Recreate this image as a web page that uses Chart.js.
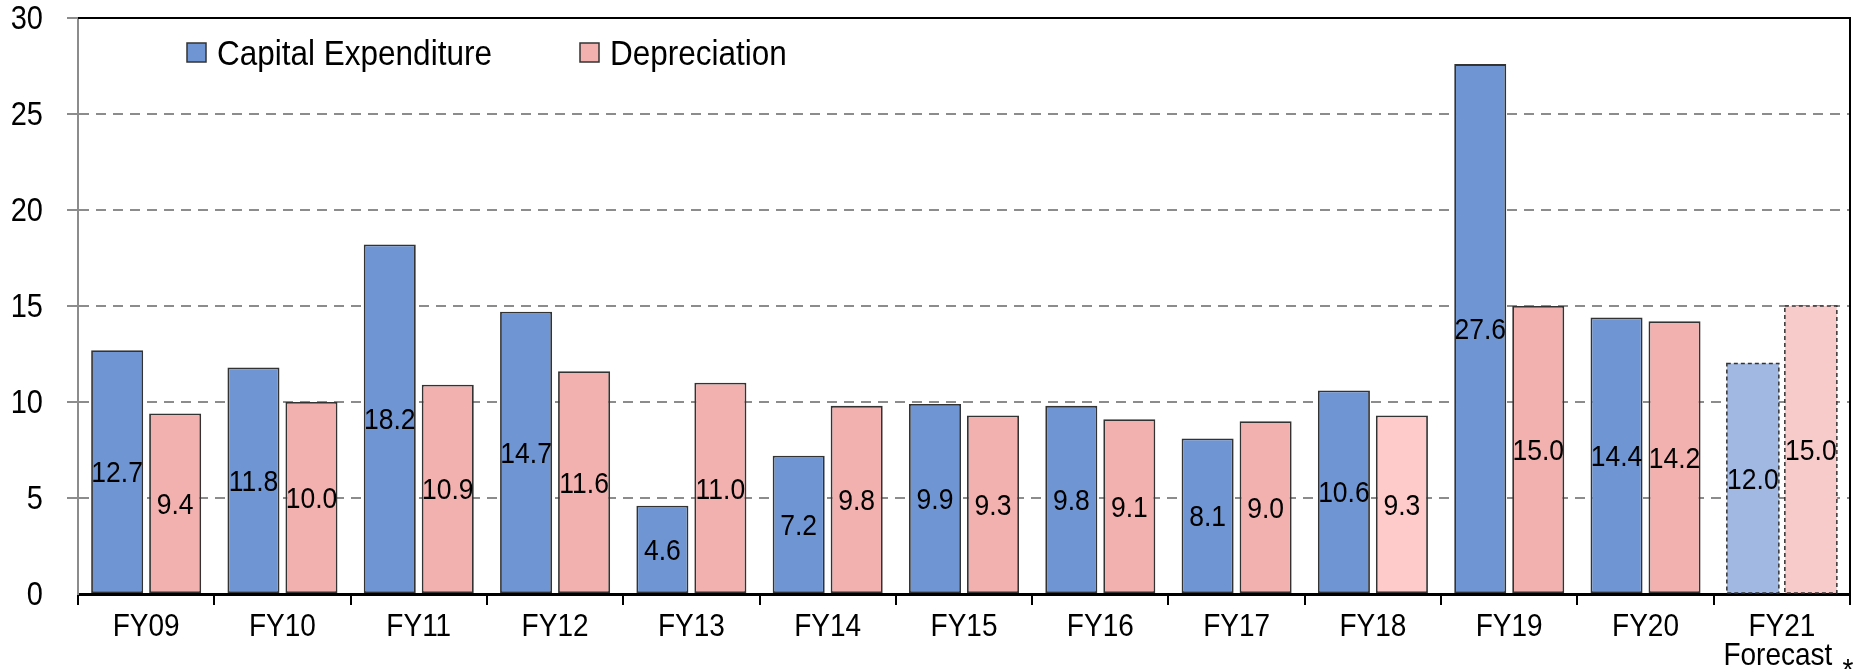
<!DOCTYPE html>
<html>
<head>
<meta charset="utf-8">
<script src="https://cdn.jsdelivr.net/npm/chart.js@4"></script>
<style>
  html, body { margin: 0; padding: 0; background: #fff; }
  #wrap { width: 1862px; height: 669px; }
</style>
</head>
<body>
<div id="wrap"><canvas id="chart" width="1862" height="669"></canvas></div>
<script>
const categories = ["FY09","FY10","FY11","FY12","FY13","FY14","FY15","FY16","FY17","FY18","FY19","FY20","FY21"];
const forecastNote = "Forecast";
const capex = [12.7, 11.8, 18.2, 14.7, 4.6, 7.2, 9.9, 9.8, 8.1, 10.6, 27.6, 14.4, 12.0];
const depreciation = [9.4, 10.0, 10.9, 11.6, 11.0, 9.8, 9.3, 9.1, 9.0, 9.3, 15.0, 14.2, 15.0];
const yTicks = [0, 5, 10, 15, 20, 25, 30];
const forecastIndex = 12;

const FONT = "'Liberation Sans', Arial, sans-serif";
const STRETCH = 1.12; // source text is a bit taller than it is wide
const BLUE = "#6F96D3", BLUE_LIGHT = "#A1B9E2";
const PINK = "#F2B1AF", PINK_LIGHT = "#FECACA", PINK_FORECAST = "#F8CBCB";

const capexColors = capex.map((v, i) => i === forecastIndex ? BLUE_LIGHT : BLUE);
const depColors = depreciation.map((v, i) => i === forecastIndex ? PINK_FORECAST : (i === 9 ? PINK_LIGHT : PINK));

// text drawn with its cap-height centred on cy, stretched vertically
function tallText(ctx, text, x, cy, size, align){
  ctx.save();
  ctx.font = `${size}px ${FONT}`;
  ctx.textAlign = align || "center";
  ctx.textBaseline = "alphabetic";
  ctx.translate(x, cy + 0.358 * size * STRETCH);
  ctx.scale(1, STRETCH);
  ctx.fillText(text, 0, 0);
  ctx.restore();
}

// value labels in the middle of every bar + dashed forecast outlines
const barLabels = {
  id: "barLabels",
  afterDatasetsDraw(chart){
    const ctx = chart.ctx;
    ctx.save();
    ctx.fillStyle = "#000";
    chart.data.datasets.forEach((ds, di) => {
      const meta = chart.getDatasetMeta(di);
      meta.data.forEach((bar, i) => {
        if (i === forecastIndex){
          ctx.save();
          ctx.strokeStyle = "#333";
          ctx.lineWidth = 1.5;
          ctx.setLineDash([4, 3]);
          ctx.strokeRect(bar.x - bar.width/2, bar.y, bar.width, bar.base - bar.y);
          ctx.restore();
        }
        tallText(ctx, ds.data[i].toFixed(1), bar.x, (bar.y + bar.base)/2, 26.5);
      });
    });
    ctx.restore();
  }
};

// frame, axis labels and legend
const frameAndLegend = {
  id: "frameAndLegend",
  afterDraw(chart){
    const { ctx, chartArea: a } = chart;
    const xs = chart.scales.x, ys = chart.scales.y;
    ctx.save();
    ctx.strokeStyle = "#000";
    ctx.lineWidth = 2;
    ctx.beginPath();
    ctx.moveTo(a.left, a.top);
    ctx.lineTo(a.right, a.top);
    ctx.lineTo(a.right, a.bottom);
    ctx.stroke();

    ctx.fillStyle = "#000";
    yTicks.forEach(v => tallText(ctx, String(v), a.left - 35, ys.getPixelForValue(v) - 1, 29, "right"));
    categories.forEach((c, i) => tallText(ctx, c, xs.getPixelForTick(i), a.bottom + 31, 28));
    const fx = xs.getPixelForTick(forecastIndex);
    tallText(ctx, forecastNote, fx - 4, a.bottom + 60, 28);
    tallText(ctx, "*", fx + 66, a.bottom + 76, 28);

    const items = [
      { text: "Capital Expenditure", color: BLUE, x: a.left + 109 },
      { text: "Depreciation", color: PINK, x: a.left + 502 }
    ];
    for (const it of items){
      ctx.fillStyle = it.color;
      ctx.fillRect(it.x, a.top + 25, 19, 19);
      ctx.strokeStyle = "#333";
      ctx.lineWidth = 1.5;
      ctx.strokeRect(it.x, a.top + 25, 19, 19);
      ctx.fillStyle = "#000";
      tallText(ctx, it.text, it.x + 30, a.top + 34, 31.5, "left");
    }
    ctx.restore();
  }
};

new Chart(document.getElementById("chart").getContext("2d"), {
  type: "bar",
  data: {
    labels: categories,
    datasets: [
      {
        label: "Capital Expenditure",
        data: capex,
        backgroundColor: capexColors,
        borderColor: "#333",
        borderWidth: (c) => c.dataIndex === forecastIndex ? 0 : 1.8,
        borderSkipped: false,
        categoryPercentage: 0.851,
        barPercentage: 0.897
      },
      {
        label: "Depreciation",
        data: depreciation,
        backgroundColor: depColors,
        borderColor: "#333",
        borderWidth: (c) => c.dataIndex === forecastIndex ? 0 : 1.8,
        borderSkipped: false,
        categoryPercentage: 0.851,
        barPercentage: 0.897
      }
    ]
  },
  options: {
    responsive: false,
    animation: false,
    layout: { padding: { left: 0, right: 12, top: 18, bottom: 0 } },
    plugins: {
      legend: { display: false },
      tooltip: { enabled: false }
    },
    scales: {
      x: {
        offset: true,
        afterFit(scale){ scale.height = 75; scale.paddingLeft = 0; scale.paddingRight = 0; },
        grid: {
          display: true,
          drawOnChartArea: false,
          drawTicks: true,
          tickLength: 11,
          color: "#000",
          lineWidth: 2,
          offset: true
        },
        border: { display: true, color: "#000", width: 3 },
        ticks: {
          color: "rgba(0,0,0,0)",
          font: { family: FONT, size: 28 },
          maxRotation: 0,
          autoSkip: false
        }
      },
      y: {
        min: 0,
        max: 30,
        afterFit(scale){ scale.width = 78; scale.paddingTop = 0; scale.paddingBottom = 0; },
        afterBuildTicks(scale){ scale.ticks = yTicks.map(v => ({ value: v })); },
        grid: {
          color: (c) => c.tick && c.tick.value === 0 ? "rgba(0,0,0,0)" : "#8C8C8C",
          lineWidth: 2,
          tickLength: 11,
          drawTicks: true
        },
        border: { display: true, color: "#8C8C8C", width: 2, dash: [10, 7] },
        ticks: {
          color: "rgba(0,0,0,0)",
          font: { family: FONT, size: 29 }
        }
      }
    }
  },
  plugins: [barLabels, frameAndLegend]
});
</script>
</body>
</html>
